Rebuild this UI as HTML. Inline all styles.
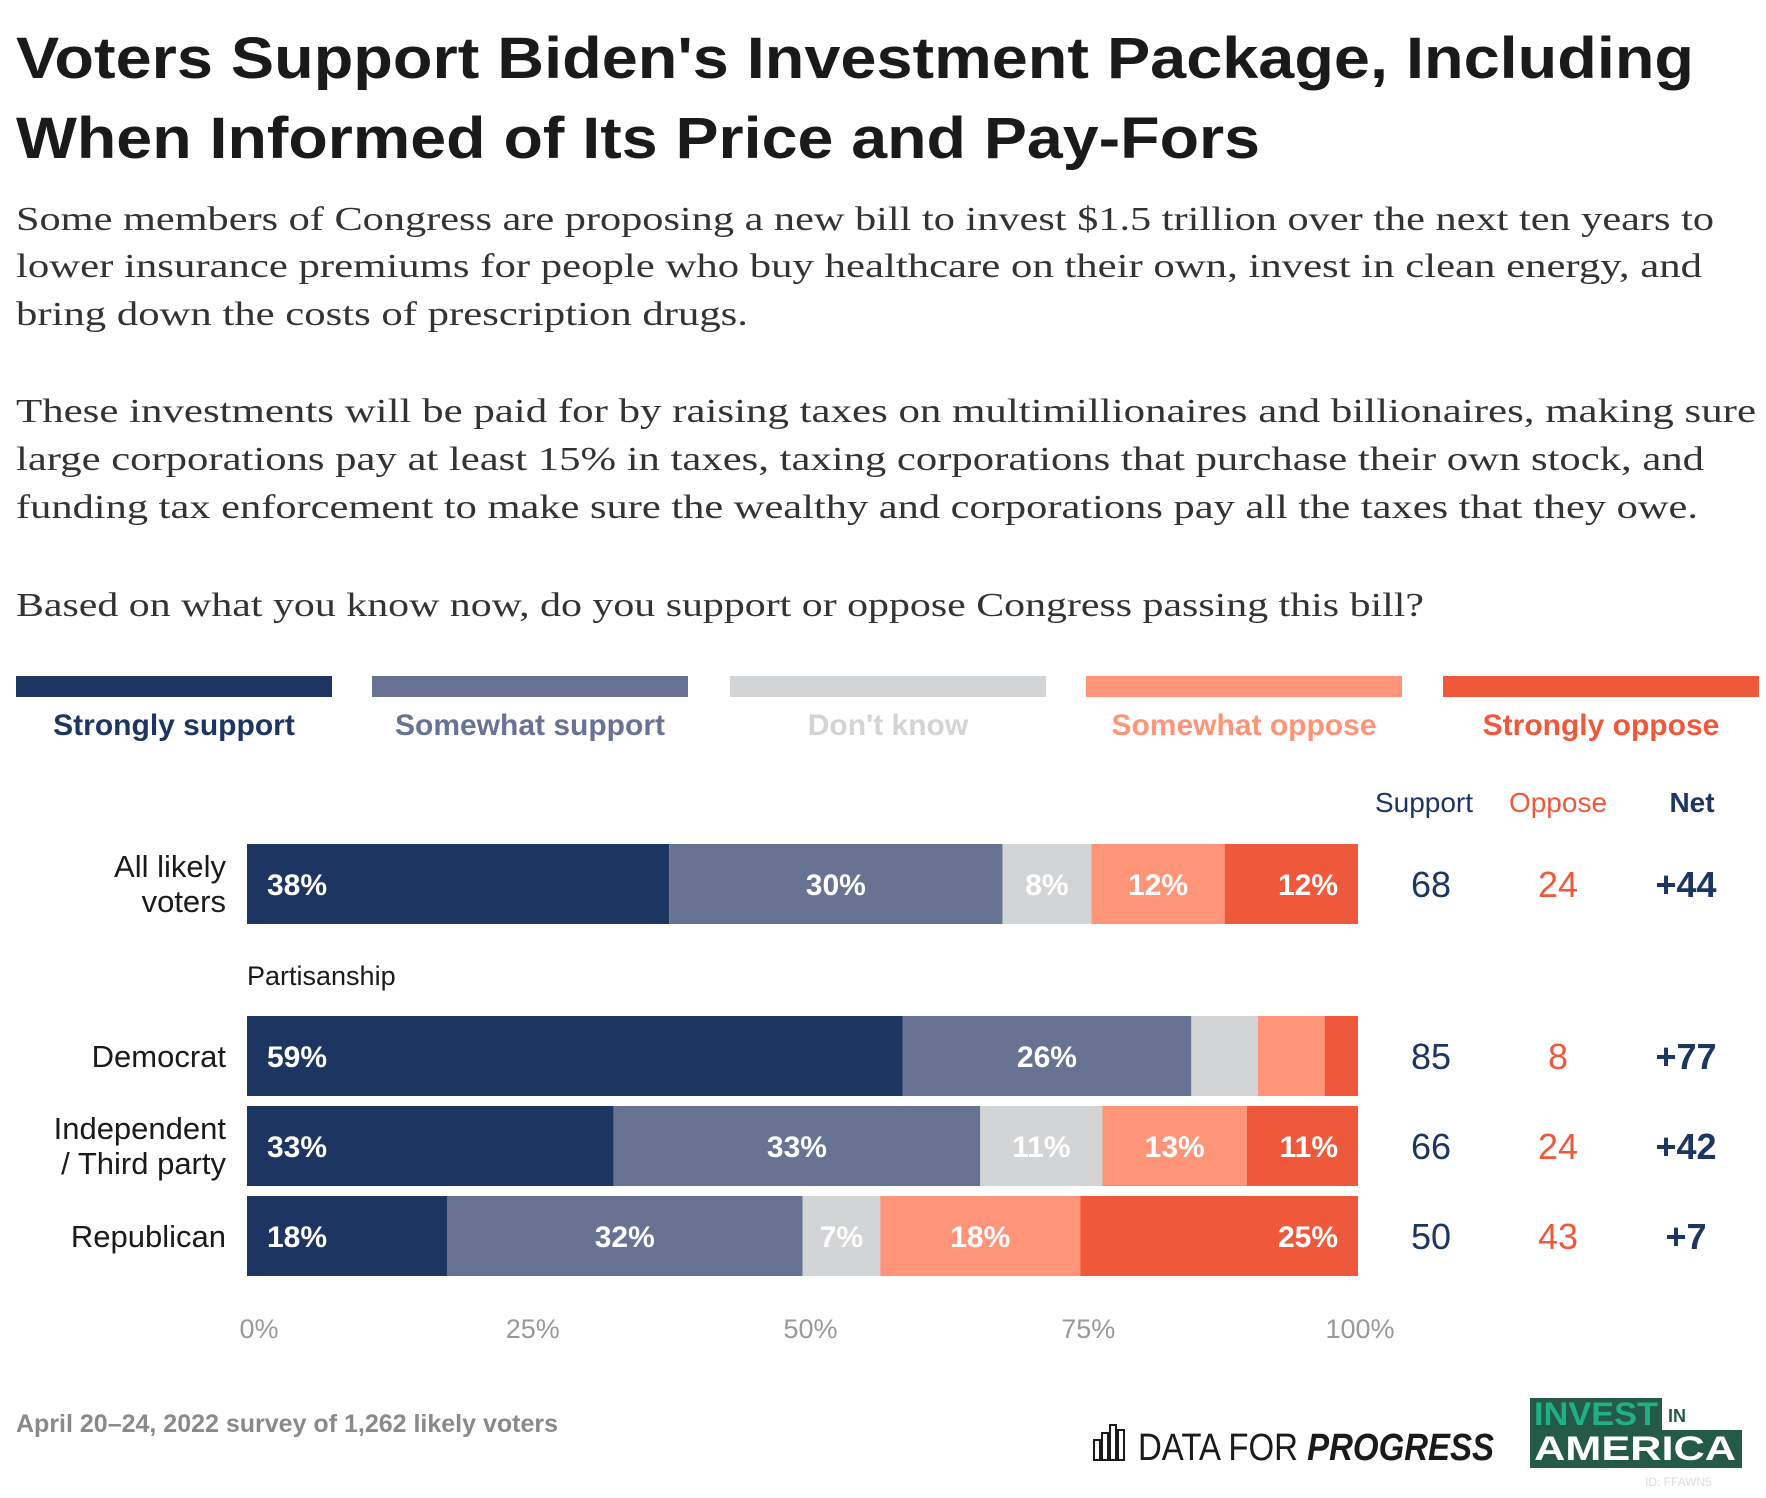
<!DOCTYPE html>
<html><head><meta charset="utf-8">
<style>
html,body{margin:0;padding:0;background:#fff;}
svg{display:block;}
.sans{font-family:"Liberation Sans",sans-serif;}
.serif{font-family:"Liberation Serif",serif;}
</style></head>
<body>
<svg id="chart" width="1766" height="1498" viewBox="0 0 1766 1498" xmlns="http://www.w3.org/2000/svg">
<g class="sans" font-weight="bold" font-size="58" fill="#1a1a1a">
<text x="16" y="78" textLength="1678" lengthAdjust="spacingAndGlyphs">Voters Support Biden's Investment Package, Including</text>
<text x="16" y="158" textLength="1244" lengthAdjust="spacingAndGlyphs">When Informed of Its Price and Pay-Fors</text>
</g>
<g class="serif" font-size="34" fill="#333">
<text x="16" y="230" textLength="1698" lengthAdjust="spacingAndGlyphs">Some members of Congress are proposing a new bill to invest $1.5 trillion over the next ten years to</text>
<text x="16" y="277" textLength="1686" lengthAdjust="spacingAndGlyphs">lower insurance premiums for people who buy healthcare on their own, invest in clean energy, and</text>
<text x="16" y="325" textLength="732" lengthAdjust="spacingAndGlyphs">bring down the costs of prescription drugs.</text>
<text x="16" y="422" textLength="1740" lengthAdjust="spacingAndGlyphs">These investments will be paid for by raising taxes on multimillionaires and billionaires, making sure</text>
<text x="16" y="470" textLength="1688" lengthAdjust="spacingAndGlyphs">large corporations pay at least 15% in taxes, taxing corporations that purchase their own stock, and</text>
<text x="16" y="518" textLength="1682" lengthAdjust="spacingAndGlyphs">funding tax enforcement to make sure the wealthy and corporations pay all the taxes that they owe.</text>
<text x="16" y="616" textLength="1408" lengthAdjust="spacingAndGlyphs">Based on what you know now, do you support or oppose Congress passing this bill?</text>
</g>
<g id="legend"></g>
<g id="headers" class="sans" font-size="28" text-anchor="middle">
<text x="1424" y="812" fill="#1d3661">Support</text>
<text x="1558" y="812" fill="#f0583b">Oppose</text>
<text x="1692" y="812" fill="#1d3661" font-weight="bold">Net</text>
</g>
<text class="sans" x="247" y="985" font-size="27" fill="#1a1a1a">Partisanship</text>
<g id="bars"></g>
<g id="axis"></g>
<text class="sans" x="16" y="1432" font-size="25" font-weight="bold" fill="#8a8a8a">April 20–24, 2022 survey of 1,262 likely voters</text>
<g>
<rect x="1094" y="1440" width="6" height="20" fill="none" stroke="#1a1a1a" stroke-width="2"/>
<rect x="1102" y="1433" width="6" height="27" fill="none" stroke="#1a1a1a" stroke-width="2"/>
<rect x="1110" y="1425" width="6" height="35" fill="none" stroke="#1a1a1a" stroke-width="2"/>
<rect x="1118" y="1430" width="6" height="30" fill="none" stroke="#1a1a1a" stroke-width="2"/>
<text class="sans" x="1138" y="1460" font-size="38" fill="#1a1a1a" textLength="356" lengthAdjust="spacingAndGlyphs">DATA FOR <tspan font-weight="bold" font-style="italic">PROGRESS</tspan></text>
</g>
<g class="sans">
<rect x="1530" y="1398" width="132" height="32" fill="#245a47"/>
<rect x="1530" y="1430" width="212" height="38" fill="#245a47"/>
<text x="1534" y="1425" font-size="32" fill="#1fb185" textLength="124" lengthAdjust="spacingAndGlyphs" font-weight="bold">INVEST</text>
<text x="1668" y="1422" font-size="18" fill="#245a47" font-weight="bold">IN</text>
<text x="1534" y="1460" font-size="34" fill="#fff" textLength="202" lengthAdjust="spacingAndGlyphs" font-weight="bold">AMERICA</text>
<text x="1645" y="1486" font-size="12" fill="#ddd">ID: FFAWN5</text>
</g>
</svg>
<script>
var NS='http://www.w3.org/2000/svg';
var categories=['Strongly support','Somewhat support',"Don't know",'Somewhat oppose','Strongly oppose'];
var colors=['#1d3661','#687394','#d3d4d6','#ff9479','#f0583b'];
var rows=['All likely voters','Democrat','Independent / Third party','Republican'];
var stronglySupport=[38,59,33,18];
var somewhatSupport=[30,26,33,32];
var dontKnow=[8,6,11,7];
var somewhatOppose=[12,6,13,18];
var stronglyOppose=[12,2,11,25];
var supportTotals=[68,85,66,50];
var opposeTotals=[24,8,24,43];
var netValues=['+44','+77','+42','+7'];
var ticks=[0,25,50,75,100];
var tickLabels=['0%','25%','50%','75%','100%'];

var X0=247,X1=1358;
function xs(v){return X0+(X1-X0)*v/100;}
var rowTop=[844,1016,1106,1196];
var rowH=80;
function el(tag,attrs,parent){var e=document.createElementNS(NS,tag);for(var a in attrs)e.setAttribute(a,attrs[a]);parent.appendChild(e);return e;}

var lg=document.getElementById('legend');
var lgX=[16,372,730,1086,1443],lgW=316;
for(var i=0;i<categories.length;i++){
  var sw=el('rect',{x:lgX[i],y:676,width:lgW,height:21,fill:colors[i]},lg);
  
  
  var t=el('text',{x:lgX[i]+lgW/2,y:735,'text-anchor':'middle','font-size':30,'font-weight':'bold',fill:colors[i],'font-family':'Liberation Sans, sans-serif'},lg);
  t.textContent=categories[i];
  
  
}

var bars=document.getElementById('bars');
var series=[stronglySupport,somewhatSupport,dontKnow,somewhatOppose,stronglyOppose];
for(var r2=0;r2<rows.length;r2++){
  var y=rowTop[r2],cum=0;
  for(var s=0;s<series.length;s++){
    var v=series[s][r2];
    var xa=xs(cum),xb=xs(cum+v);
    if(s==series.length-1)xb=X1;
    var rc=el('rect',{x:xa,y:y,width:Math.max(0,xb-xa),height:rowH,fill:colors[s]},bars);
    
    
    if(v>=7){
      var tx,anc;
      if(s==0){tx=xa+20;anc='start';}
      else if(s==series.length-1){tx=X1-20;anc='end';}
      else{tx=(xa+xb)/2;anc='middle';}
      var lt=el('text',{x:tx,y:y+rowH/2+11,'text-anchor':anc,'font-size':30,'font-weight':'bold',fill:'#fff','font-family':'Liberation Sans, sans-serif'},bars);
      lt.textContent=v+'%';
      
      
    }
    cum+=v;
  }
  var cy=y+rowH/2;
  var n1=el('text',{x:1431,y:cy+13,'text-anchor':'middle','font-size':36,fill:'#1d3661','font-family':'Liberation Sans, sans-serif'},bars);
  n1.textContent=supportTotals[r2];
  
  
  var n2=el('text',{x:1558,y:cy+13,'text-anchor':'middle','font-size':36,fill:'#f0583b','font-family':'Liberation Sans, sans-serif'},bars);
  n2.textContent=opposeTotals[r2];
  
  
  var n3=el('text',{x:1686,y:cy+13,'text-anchor':'middle','font-size':36,'font-weight':'bold',fill:'#1d3661','font-family':'Liberation Sans, sans-serif'},bars);
  n3.textContent=netValues[r2];
  
  
  var parts=rows[r2]=='All likely voters'?['All likely','voters']:rows[r2]=='Independent / Third party'?['Independent','/ Third party']:[rows[r2]];
  for(var p=0;p<parts.length;p++){
    var yy=parts.length==1?cy+11:cy-7+p*35;
    var rl=el('text',{x:226,y:yy,'text-anchor':'end','font-size':31,fill:'#1a1a1a','font-family':'Liberation Sans, sans-serif'},bars);
    rl.textContent=parts[p];
    
    
  }
}
var ax=document.getElementById('axis');
for(var k=0;k<ticks.length;k++){
  var at=el('text',{x:xs(ticks[k])+(k==0?12:k==4?2:8),y:1338,'text-anchor':'middle','font-size':27,fill:'#999','font-family':'Liberation Sans, sans-serif'},ax);
  at.textContent=tickLabels[k];
  
  
}
</script>
</body></html>
